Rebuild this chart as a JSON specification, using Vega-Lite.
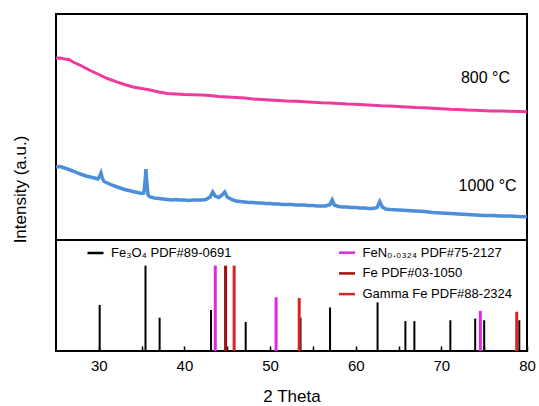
{
  "$schema": "https://vega.github.io/schema/vega-lite/v6.json",
  "padding": {"left": 10, "top": 13, "right": 5, "bottom": 0},
  "bounds": "flush",
  "spacing": 0,
  "config": {
    "font": "Liberation Sans",
    "view": {"stroke": "black", "strokeWidth": 2},
    "axis": {"labelColor": "black", "titleColor": "black", "titleFontWeight": "normal", "grid": false},
    "legend": {"orient": "none", "title": null, "symbolType": "stroke", "symbolSize": 256, "symbolStrokeWidth": 2.5, "labelFontSize": 13, "labelColor": "black", "labelOffset": 6, "rowPadding": 3.7, "padding": 0, "labelLimit": 300}
  },
  "datasets": {
    "pink": [
      {"theta": 25, "i": 181.7}, {"theta": 25.5, "i": 182}, {"theta": 26, "i": 181}, {"theta": 26.5, "i": 180.5},
      {"theta": 27, "i": 178}, {"theta": 27.5, "i": 176}, {"theta": 28, "i": 174}, {"theta": 28.5, "i": 171.7},
      {"theta": 29, "i": 169.5}, {"theta": 29.5, "i": 167.5}, {"theta": 30, "i": 165.5}, {"theta": 31, "i": 161.5},
      {"theta": 32, "i": 158.3}, {"theta": 33, "i": 155.5}, {"theta": 34, "i": 153}, {"theta": 35, "i": 151.5},
      {"theta": 36, "i": 150}, {"theta": 37, "i": 148}, {"theta": 38, "i": 146.5}, {"theta": 39, "i": 146},
      {"theta": 40, "i": 145.5}, {"theta": 41, "i": 145.3}, {"theta": 42, "i": 145}, {"theta": 43, "i": 144.5},
      {"theta": 44, "i": 143.5}, {"theta": 45, "i": 143}, {"theta": 46, "i": 142.5}, {"theta": 47, "i": 142},
      {"theta": 48, "i": 141}, {"theta": 49, "i": 140.5}, {"theta": 50, "i": 140}, {"theta": 51, "i": 139.5},
      {"theta": 52, "i": 139}, {"theta": 53, "i": 138.8}, {"theta": 54, "i": 138.3}, {"theta": 55, "i": 137.8},
      {"theta": 56, "i": 137.3}, {"theta": 57, "i": 137}, {"theta": 58, "i": 136.5}, {"theta": 59, "i": 136},
      {"theta": 60, "i": 135.7}, {"theta": 61, "i": 135.2}, {"theta": 62, "i": 134.8}, {"theta": 63, "i": 134.3},
      {"theta": 64, "i": 134}, {"theta": 65, "i": 133.5}, {"theta": 66, "i": 133}, {"theta": 67, "i": 132.5},
      {"theta": 68, "i": 132.2}, {"theta": 69, "i": 131.8}, {"theta": 70, "i": 131.3}, {"theta": 71, "i": 130.8},
      {"theta": 72, "i": 130.5}, {"theta": 73, "i": 130}, {"theta": 74, "i": 129.7}, {"theta": 75, "i": 129.3},
      {"theta": 76, "i": 129}, {"theta": 77, "i": 129}, {"theta": 78, "i": 128.7}, {"theta": 79, "i": 128.5},
      {"theta": 80, "i": 128.3}
    ],
    "blue": [
      {"theta": 25, "i": 73}, {"theta": 25.5, "i": 73.5}, {"theta": 26, "i": 72}, {"theta": 26.5, "i": 70.5},
      {"theta": 27, "i": 69}, {"theta": 27.5, "i": 67}, {"theta": 28, "i": 65.5}, {"theta": 28.5, "i": 64},
      {"theta": 29, "i": 63}, {"theta": 29.5, "i": 62}, {"theta": 29.9, "i": 61}, {"theta": 30.1, "i": 64},
      {"theta": 30.25, "i": 67}, {"theta": 30.4, "i": 62}, {"theta": 30.6, "i": 58.5}, {"theta": 31, "i": 57},
      {"theta": 31.5, "i": 55}, {"theta": 32, "i": 53.5}, {"theta": 32.5, "i": 52}, {"theta": 33, "i": 50.5},
      {"theta": 33.5, "i": 49.5}, {"theta": 34, "i": 48.5}, {"theta": 34.5, "i": 47.5}, {"theta": 35, "i": 46.5},
      {"theta": 35.25, "i": 47}, {"theta": 35.4, "i": 58}, {"theta": 35.5, "i": 71}, {"theta": 35.6, "i": 58},
      {"theta": 35.75, "i": 45}, {"theta": 36, "i": 43}, {"theta": 36.5, "i": 42}, {"theta": 37, "i": 41.5},
      {"theta": 37.5, "i": 41}, {"theta": 38, "i": 40.5}, {"theta": 38.5, "i": 40}, {"theta": 39, "i": 40.5},
      {"theta": 39.5, "i": 40}, {"theta": 40, "i": 40}, {"theta": 40.5, "i": 39.5}, {"theta": 41, "i": 40},
      {"theta": 41.5, "i": 40}, {"theta": 42, "i": 40}, {"theta": 42.5, "i": 40.5}, {"theta": 43, "i": 43},
      {"theta": 43.3, "i": 48}, {"theta": 43.6, "i": 44}, {"theta": 44, "i": 42.5}, {"theta": 44.4, "i": 45},
      {"theta": 44.7, "i": 48}, {"theta": 45, "i": 43}, {"theta": 45.5, "i": 40.5}, {"theta": 46, "i": 39},
      {"theta": 46.5, "i": 38.5}, {"theta": 47, "i": 38}, {"theta": 47.5, "i": 37.5}, {"theta": 48, "i": 37.5},
      {"theta": 48.5, "i": 37}, {"theta": 49, "i": 37}, {"theta": 49.5, "i": 36.5}, {"theta": 50, "i": 36.5},
      {"theta": 50.5, "i": 36}, {"theta": 51, "i": 36}, {"theta": 51.5, "i": 35.5}, {"theta": 52, "i": 35.5},
      {"theta": 52.5, "i": 35.5}, {"theta": 53, "i": 35}, {"theta": 53.5, "i": 35}, {"theta": 54, "i": 35},
      {"theta": 54.5, "i": 34.5}, {"theta": 55, "i": 34.5}, {"theta": 55.5, "i": 34}, {"theta": 56, "i": 34},
      {"theta": 56.5, "i": 34}, {"theta": 57, "i": 35.5}, {"theta": 57.25, "i": 40}, {"theta": 57.5, "i": 35},
      {"theta": 58, "i": 33.5}, {"theta": 58.5, "i": 33}, {"theta": 59, "i": 33}, {"theta": 59.5, "i": 32.5},
      {"theta": 60, "i": 32.5}, {"theta": 60.5, "i": 32}, {"theta": 61, "i": 32}, {"theta": 61.5, "i": 31.5},
      {"theta": 62, "i": 31.5}, {"theta": 62.5, "i": 32.5}, {"theta": 62.8, "i": 38.5}, {"theta": 63.1, "i": 33},
      {"theta": 63.5, "i": 31}, {"theta": 64, "i": 30.5}, {"theta": 65, "i": 30}, {"theta": 66, "i": 29.5},
      {"theta": 67, "i": 29}, {"theta": 68, "i": 28.5}, {"theta": 69, "i": 27.5}, {"theta": 70, "i": 27},
      {"theta": 71, "i": 26.5}, {"theta": 72, "i": 26}, {"theta": 73, "i": 25.5}, {"theta": 74, "i": 25},
      {"theta": 75, "i": 24.5}, {"theta": 76, "i": 24.5}, {"theta": 77, "i": 24}, {"theta": 78, "i": 24},
      {"theta": 79, "i": 23.5}, {"theta": 80, "i": 23.3}
    ],
    "labels": [
      {"label": "800 °C", "theta": 75.15, "i": 162},
      {"label": "1000 °C", "theta": 75.4, "i": 54.5}
    ],
    "sticks": [
      {"phase": "Fe₃O₄ PDF#89-0691", "theta": 30.1, "i": 54},
      {"phase": "Fe₃O₄ PDF#89-0691", "theta": 35.45, "i": 100},
      {"phase": "Fe₃O₄ PDF#89-0691", "theta": 37.1, "i": 39},
      {"phase": "Fe₃O₄ PDF#89-0691", "theta": 43.1, "i": 48},
      {"phase": "Fe₃O₄ PDF#89-0691", "theta": 47.15, "i": 34},
      {"phase": "Fe₃O₄ PDF#89-0691", "theta": 53.55, "i": 39},
      {"phase": "Fe₃O₄ PDF#89-0691", "theta": 57.0, "i": 51},
      {"phase": "Fe₃O₄ PDF#89-0691", "theta": 62.55, "i": 57},
      {"phase": "Fe₃O₄ PDF#89-0691", "theta": 65.8, "i": 35},
      {"phase": "Fe₃O₄ PDF#89-0691", "theta": 66.85, "i": 35},
      {"phase": "Fe₃O₄ PDF#89-0691", "theta": 71.05, "i": 36},
      {"phase": "Fe₃O₄ PDF#89-0691", "theta": 73.95, "i": 38},
      {"phase": "Fe₃O₄ PDF#89-0691", "theta": 75.0, "i": 36},
      {"phase": "Fe₃O₄ PDF#89-0691", "theta": 79.1, "i": 36},
      {"phase": "FeN₀.₀₃₂₄ PDF#75-2127", "theta": 43.6, "i": 100},
      {"phase": "FeN₀.₀₃₂₄ PDF#75-2127", "theta": 50.7, "i": 63},
      {"phase": "FeN₀.₀₃₂₄ PDF#75-2127", "theta": 74.55, "i": 47},
      {"phase": "Fe PDF#03-1050", "theta": 44.8, "i": 100},
      {"phase": "Gamma Fe PDF#88-2324", "theta": 45.8, "i": 100},
      {"phase": "Gamma Fe PDF#88-2324", "theta": 53.4, "i": 62},
      {"phase": "Gamma Fe PDF#88-2324", "theta": 78.8, "i": 46}
    ]
  },
  "vconcat": [
    {
      "width": 471,
      "height": 226,
      "encoding": {
        "x": {"field": "theta", "type": "quantitative", "scale": {"domain": [25, 80], "nice": false, "zero": false}, "axis": null},
        "y": {"field": "i", "type": "quantitative", "scale": {"domain": [0, 226], "nice": false},
          "axis": {"title": "Intensity (a.u.)", "labels": false, "ticks": false, "domain": false, "titleFontSize": 17, "titlePadding": 27, "titleY": 175}}
      },
      "layer": [
        {"data": {"name": "pink"}, "mark": {"type": "line", "color": "#ee3b9b", "strokeWidth": 3}},
        {"data": {"name": "blue"}, "mark": {"type": "line", "color": "#4a8fd8", "strokeWidth": 3.5}},
        {"data": {"name": "labels"}, "mark": {"type": "text", "fontSize": 16, "align": "center", "baseline": "middle", "color": "black"},
          "encoding": {"text": {"field": "label"}}}
      ]
    },
    {
      "width": 471,
      "height": 111,
      "data": {"name": "sticks"},
      "encoding": {
        "x": {"field": "theta", "type": "quantitative", "scale": {"domain": [25, 80], "nice": false, "zero": false},
          "axis": {"title": "2 Theta", "titleFontSize": 17, "titlePadding": 15, "values": [30, 35, 40, 45, 50, 55, 60, 65, 70, 75, 80],
            "labelExpr": "datum.value % 10 === 0 ? datum.label : ''", "labelFlush": false, "labelFontSize": 15, "labelPadding": 12,
            "tickSize": -5, "tickColor": "black", "tickWidth": 1.5, "domain": false,
            "encode": {"ticks": {"update": {"y2": {"signal": "datum.value % 10 === 0 ? -5 : -3"}}}}}},
        "y": {"field": "i", "type": "quantitative", "scale": {"domain": [0, 130], "nice": false}, "axis": null},
        "y2": {"datum": 0}
      },
      "layer": [
        {
          "transform": [{"filter": {"field": "phase", "equal": "Fe₃O₄ PDF#89-0691"}}],
          "mark": {"type": "rule", "strokeWidth": 2},
          "encoding": {
            "color": {"field": "phase", "type": "nominal", "scale": {"domain": ["Fe₃O₄ PDF#89-0691"], "range": ["black"]},
              "legend": {"legendX": 30, "legendY": 3.5}}
          }
        },
        {
          "transform": [{"filter": {"not": {"field": "phase", "equal": "Fe₃O₄ PDF#89-0691"}}}],
          "mark": {"type": "rule", "strokeWidth": 3},
          "encoding": {
            "color": {"field": "phase", "type": "nominal",
              "scale": {"domain": ["FeN₀.₀₃₂₄ PDF#75-2127", "Fe PDF#03-1050", "Gamma Fe PDF#88-2324"], "range": ["#e326e3", "#a01010", "#dc2222"]},
              "legend": {"legendX": 281.5, "legendY": 3.2}}
          }
        }
      ],
      "resolve": {"scale": {"color": "independent"}}
    }
  ]
}
